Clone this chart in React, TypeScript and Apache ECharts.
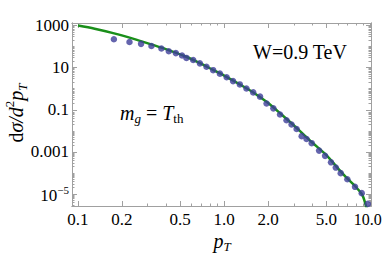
import React, { useEffect, useRef } from 'react';
import * as echarts from 'echarts';

// axis ranges (raw values)
const X_RANGE = [0.091, 10.1];
const Y_RANGE = [2.7e-6, 1320];
// tick values
const X_MAJOR = [0.1, 0.2, 0.5, 1, 2, 5, 10];
const X_MINOR = [0.3, 0.4, 0.6, 0.7, 0.8, 0.9, 3, 4, 6, 7, 8, 9];
const Y_MAJOR = [1000, 10, 0.1, 0.001, 1e-5];
const Y_DECADES = [-6, -5, -4, -3, -2, -1, 0, 1, 2, 3];
const Y_MULT = [1, 2, 3, 4, 5, 6, 7, 8, 9];

// data points (blue dots)
const DATA_PT = [
  0.176, 0.225, 0.27, 0.318, 0.372, 0.418, 0.467, 0.515, 0.552, 0.614,
  0.682, 0.757, 0.841, 0.935, 1.04, 1.15, 1.28, 1.42, 1.58, 1.76,
  1.95, 2.17, 2.41, 2.67, 2.89, 3.13, 3.39, 3.66, 3.97, 4.46,
  4.9, 5.38, 5.8, 6.27, 6.96, 7.85, 8.73, 9.6,
];
const DATA_Y = [
  224, 166, 135, 107, 81, 60, 49, 38, 29, 23,
  16, 11, 7.6, 5.2, 3.5, 2.3, 1.6, 1.02, 0.67, 0.42,
  0.2, 0.117, 0.06, 0.032, 0.02, 0.0123, 0.0056, 0.0041, 0.0026, 0.00115,
  6.5e-4, 3.2e-4, 1.8e-4, 9.8e-5, 5.0e-5, 2.2e-5, 1.1e-5, 3.4e-6,
];

// model curve (green)
const CURVE_PT = [
  0.1, 0.13, 0.174, 0.25, 0.33, 0.43, 0.55, 0.7, 0.85, 1.0, 1.3, 1.6, 2.0,
  2.5, 3.0, 3.5, 4.0, 5.0, 6.0, 7.0, 7.85, 8.73, 9.0, 9.33, 9.6,
];
const CURVE_Y = [
  1000, 708, 436, 214, 117, 63, 33, 15, 7.4, 4.2, 1.5, 0.63, 0.21,
  0.055, 0.018, 0.0066, 0.0028, 7.0e-4, 1.66e-4, 5.2e-5, 2.4e-5, 1.0e-5, 6.3e-6, 2.7e-6, 1.1e-6,
];

const FONT = 'Liberation Serif, DejaVu Serif, serif';
const FRAME = '#a0a0a0';
const lg = (v: number) => Math.log10(v);

export default function App() {
  const ref = useRef<HTMLDivElement>(null);
  useEffect(() => {
    if (!ref.current) return;
    const chart = echarts.init(ref.current, undefined, { renderer: 'svg' });

    const yMinor: number[] = [];
    Y_DECADES.forEach((n) =>
      Y_MULT.forEach((k) => {
        const v = k * Math.pow(10, n);
        if (v >= Y_RANGE[0] && v <= Y_RANGE[1] && !(k === 1 && Y_MAJOR.some((m) => Math.abs(lg(m) - n) < 1e-9))) {
          yMinor.push(lg(v));
        }
      })
    );

    const xFmt = (v: number) => {
      const s = Math.pow(10, v).toFixed(1);
      return v > 0.99 ? '{e|' + s + '}' : s;
    };
    const yFmt = (v: number) => {
      const e = Math.round(v);
      if (e >= -3) return String(Number(Math.pow(10, e).toFixed(6)));
      return '{b|10}{s|' + '\u2212' + String(-e) + '}';
    };

    const xBase = {
      type: 'value',
      min: lg(X_RANGE[0]),
      max: lg(X_RANGE[1]),
      splitLine: { show: false },
      axisLine: { show: true, onZero: false, lineStyle: { color: FRAME, width: 1 } },
    };
    const yBase = {
      type: 'value',
      min: lg(Y_RANGE[0]),
      max: lg(Y_RANGE[1]),
      splitLine: { show: false },
      axisLine: { show: true, onZero: false, lineStyle: { color: FRAME, width: 1 } },
    };
    const tick = (vals: number[], len: number) => ({
      show: true,
      inside: true,
      length: len,
      customValues: vals,
      lineStyle: { color: FRAME, width: 1 },
    });
    const xMaj = X_MAJOR.map(lg);
    const xMin = X_MINOR.map(lg);
    const yMaj = Y_MAJOR.map(lg);

    chart.setOption({
      animation: false,
      grid: { left: 72, right: 11, top: 23, bottom: 49, containLabel: false, outerBoundsMode: 'none' },
      xAxis: [
        {
          ...xBase,
          position: 'bottom',
          axisTick: tick(xMaj, 5),
          axisLabel: {
            show: true,
            customValues: xMaj,
            formatter: xFmt,
            color: '#000',
            fontFamily: FONT,
            fontSize: 17,
            margin: 5,
            rich: {
              e: { fontFamily: FONT, fontSize: 16, color: '#000', padding: [0, 5, 0, 0] },
            },
          },
        },
        { ...xBase, position: 'bottom', axisTick: tick(xMin, 2.5), axisLabel: { show: false } },
        { ...xBase, position: 'top', axisTick: tick(xMaj, 5), axisLabel: { show: false } },
        { ...xBase, position: 'top', axisTick: tick(xMin, 2.5), axisLabel: { show: false } },
      ],
      yAxis: [
        {
          ...yBase,
          position: 'left',
          axisTick: tick(yMaj, 5),
          axisLabel: {
            show: true,
            customValues: yMaj,
            formatter: yFmt,
            color: '#000',
            fontFamily: FONT,
            fontSize: 17,
            margin: 3,
            rich: {
              b: { fontFamily: FONT, fontSize: 17, color: '#000', lineHeight: 20, verticalAlign: 'bottom' },
              s: { fontFamily: FONT, fontSize: 11, color: '#000', lineHeight: 20, verticalAlign: 'top' },
            },
          },
        },
        { ...yBase, position: 'left', axisTick: tick(yMinor, 2.5), axisLabel: { show: false } },
        { ...yBase, position: 'right', axisTick: tick(yMaj, 5), axisLabel: { show: false } },
        { ...yBase, position: 'right', axisTick: tick(yMinor, 2.5), axisLabel: { show: false } },
      ],
      series: [
        {
          type: 'line',
          xAxisIndex: 0,
          yAxisIndex: 0,
          data: CURVE_PT.map((p, i) => [lg(p), lg(CURVE_Y[i])]),
          showSymbol: false,
          smooth: 0.3,
          clip: true,
          lineStyle: { color: '#1a8f1a', width: 2.5 },
          z: 2,
        },
        {
          type: 'scatter',
          xAxisIndex: 0,
          yAxisIndex: 0,
          data: DATA_PT.map((p, i) => [lg(p), lg(DATA_Y[i])]),
          symbol: 'circle',
          symbolSize: 6.5,
          itemStyle: { color: '#3d3d99' },
          z: 3,
        },
      ],
      graphic: [
        {
          type: 'text',
          x: 16,
          y: 113,
          rotation: Math.PI / 2,
          style: {
            text: '{r|d}{i|\u03c3/d}{sup|2}{i|p}{sub|T}',
            align: 'center',
            verticalAlign: 'middle',
            rich: {
              r: { fontFamily: FONT, fontSize: 20, color: '#000', lineHeight: 26 },
              i: { fontFamily: FONT, fontSize: 20, fontStyle: 'italic', color: '#000', lineHeight: 26 },
              sup: { fontFamily: FONT, fontSize: 13, color: '#000', lineHeight: 26, verticalAlign: 'top' },
              sub: { fontFamily: FONT, fontSize: 13, fontStyle: 'italic', color: '#000', lineHeight: 22, verticalAlign: 'bottom' },
            },
          },
        },
        {
          type: 'text',
          x: 222,
          y: 241,
          style: {
            text: '{i|p}{sub|T}',
            align: 'center',
            verticalAlign: 'middle',
            rich: {
              i: { fontFamily: FONT, fontSize: 20, fontStyle: 'italic', color: '#000', lineHeight: 24 },
              sub: { fontFamily: FONT, fontSize: 13, fontStyle: 'italic', color: '#000', lineHeight: 20, verticalAlign: 'bottom' },
            },
          },
        },
        {
          type: 'text',
          x: 253,
          y: 52,
          style: {
            text: 'W=0.9 TeV',
            fontFamily: FONT,
            fontSize: 20,
            fill: '#000',
            align: 'left',
            verticalAlign: 'middle',
          },
        },
        {
          type: 'text',
          x: 120,
          y: 113,
          style: {
            text: '{i|m}{sub|g}{r| = }{i|T}{subr|th}',
            align: 'left',
            verticalAlign: 'middle',
            rich: {
              r: { fontFamily: FONT, fontSize: 20, color: '#000', lineHeight: 24 },
              i: { fontFamily: FONT, fontSize: 20, fontStyle: 'italic', color: '#000', lineHeight: 24 },
              sub: { fontFamily: FONT, fontSize: 13, fontStyle: 'italic', color: '#000', lineHeight: 20, verticalAlign: 'bottom' },
              subr: { fontFamily: FONT, fontSize: 13, color: '#000', lineHeight: 20, verticalAlign: 'bottom' },
            },
          },
        },
      ],
    });
    return () => chart.dispose();
  }, []);

  return (
    <div
      ref={ref}
      style={{ position: 'fixed', left: 0, top: 0, width: 382, height: 255, background: '#fff' }}
    />
  );
}
